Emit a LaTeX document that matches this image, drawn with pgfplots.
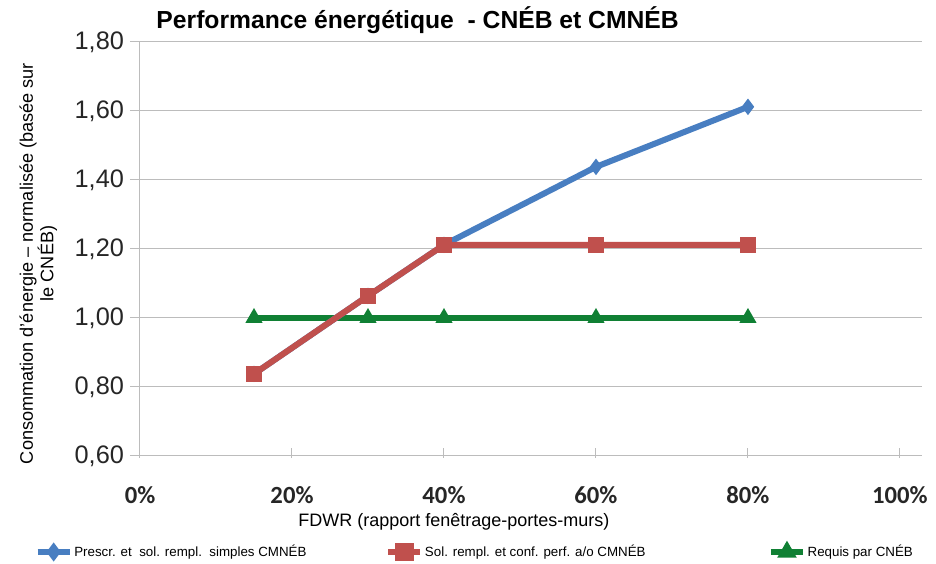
\documentclass[border=0pt]{standalone}
\usepackage{fontspec}
\setmainfont{Liberation Sans}
\newfontfamily\carlito{Carlito}
\usepackage{pgfplots}
\pgfplotsset{compat=1.18}
\definecolor{cblue}{RGB}{72,126,193}
\definecolor{cred}{RGB}{192,80,77}
\definecolor{cgreen}{RGB}{16,128,52}
\definecolor{cgrid}{RGB}{188,188,188}

\begin{document}
\begin{tikzpicture}
\path[use as bounding box] (0,0) rectangle (702pt,423pt);
\begin{axis}[
  at={(105pt,81pt)}, anchor=south west,
  scale only axis, width=586.5pt, height=310.5pt,
  xmin=0, xmax=102.9, ymin=0.6, ymax=1.8,
  xtick={0,20,40,60,80,100},
  xticklabels={0\%,20\%,40\%,60\%,80\%,100\%},
  ytick={0.6,0.8,1.0,1.2,1.4,1.6,1.8},
  axis x line*=bottom, axis y line*=left,
  axis line style={cgrid, line width=0.75pt},
  ymajorgrids, grid style={cgrid, line width=0.75pt},
  tick align=outside, major tick length=7.5pt,
  tick style={cgrid, line width=0.75pt},
  xtick style={yshift=6pt},
  /pgf/number format/fixed, /pgf/number format/fixed zerofill,
  /pgf/number format/precision=2, /pgf/number format/use comma,
  /pgf/number format/assume math mode=true,
  yticklabel style={font=\fontsize{19}{21}\selectfont, text=black!85, xshift=-1pt},
  xticklabel style={font=\carlito\bfseries\fontsize{18.5}{20}\selectfont, text=black!85, anchor=base, yshift=-28.5pt},
  title={Performance énergétique\ \ - CNÉB et CMNÉB},
  title style={font=\bfseries\fontsize{18.5}{21}\selectfont, at={(axis description cs:0.355,1)}, anchor=center, yshift=10pt},
  xlabel={FDWR (rapport fenêtrage-portes-murs)},
  xlabel style={font=\fontsize{13.5}{15}\selectfont, at={(axis description cs:0.4015,-0.159)}, anchor=center},
  ylabel={Consommation d'énergie – normalisée (basée sur\\ le CNÉB)},
  ylabel style={font=\fontsize{13.6}{15.5}\selectfont, align=center, at={(axis description cs:-0.13,0.465)}, anchor=center},
  legend columns=3,
  legend style={draw=none, fill=none, at={(axis description cs:-0.1406,-0.2319)}, anchor=west,
     font=\fontsize{10}{12}\selectfont, nodes={inner xsep=1pt, inner ysep=1pt},
     /tikz/every even column/.append style={column sep=0pt}},
  legend cell align=left,
  legend image code/.code={\draw[mark repeat=2,mark phase=2,#1] plot coordinates {(0pt,0pt)(12pt,0pt)(24pt,0pt)};},
]
\addlegendimage{cblue, line width=5pt, mark=diamond*, mark size=3pt}
\addlegendentry{\makebox[232pt][l]{Prescr. et\ \ sol. rempl.\ \ simples CMNÉB}}
\addlegendimage{cred, line width=5pt, mark=square*, mark size=4.5pt}
\addlegendentry{\makebox[256pt][l]{Sol. rempl. et conf. perf. a/o CMNÉB}}
\addlegendimage{cgreen, line width=5pt, mark=triangle*, mark size=3.5pt}
\addlegendentry{Requis par CNÉB}

\addplot[forget plot, cgreen, line width=4.5pt, mark=triangle*, mark size=3pt] coordinates {
 (15,1.00) (30,1.00) (40,1.00) (60,1.00) (80,1.00)};
\addplot[forget plot, cblue, line width=4.5pt, mark=diamond*, mark size=2.5pt] coordinates {
 (15,0.838) (30,1.064) (40,1.212) (60,1.438) (80,1.612)};
\addplot[forget plot, cred, line width=4.5pt, mark=square*, mark size=3.8pt] coordinates {
 (15,0.838) (30,1.064) (40,1.212) (60,1.212) (80,1.212)};
\end{axis}
\end{tikzpicture}
\end{document}
